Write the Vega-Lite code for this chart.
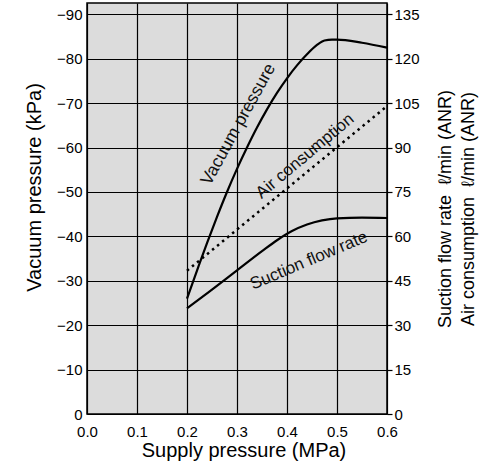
{
  "$schema": "https://vega.github.io/schema/vega-lite/v6.json",
  "width": 300,
  "height": 411,
  "autosize": {"type": "none"},
  "padding": {"left": 87, "top": 3, "right": 92, "bottom": 59},
  "background": "white",
  "config": {
    "font": "Liberation Sans",
    "view": {"fill": "#dcdcdc", "stroke": "black", "strokeWidth": 1.5},
    "axis": {
      "labelFont": "Liberation Sans",
      "titleFont": "Liberation Sans",
      "labelColor": "black",
      "titleColor": "black",
      "titleFontWeight": "normal",
      "labelFontSize": 15,
      "domain": false,
      "labelOverlap": false,
      "labelFlush": false,
      "labelBound": false,
      "gridColor": "black",
      "gridOpacity": 1,
      "gridWidth": 1.2
    }
  },
  "datasets": {
    "vacuum": [
      {"x": 0.2, "v": -26},
      {"x": 0.22, "v": -32.3},
      {"x": 0.24, "v": -38.5},
      {"x": 0.26, "v": -44.4},
      {"x": 0.28, "v": -50.0},
      {"x": 0.3, "v": -55.2},
      {"x": 0.32, "v": -60.0},
      {"x": 0.34, "v": -64.5},
      {"x": 0.36, "v": -68.6},
      {"x": 0.38, "v": -72.3},
      {"x": 0.4, "v": -75.6},
      {"x": 0.42, "v": -78.5},
      {"x": 0.44, "v": -81.0},
      {"x": 0.46, "v": -83.1},
      {"x": 0.475, "v": -84.1},
      {"x": 0.49, "v": -84.3},
      {"x": 0.5, "v": -84.3},
      {"x": 0.55, "v": -83.6},
      {"x": 0.6, "v": -82.5}
    ],
    "air": [
      {"x": 0.2, "q": 48.4},
      {"x": 0.6, "q": 104}
    ],
    "flow": [
      {"x": 0.2, "q": 35.7},
      {"x": 0.25, "q": 42.0},
      {"x": 0.3, "q": 48.5},
      {"x": 0.35, "q": 55.0},
      {"x": 0.38, "q": 58.7},
      {"x": 0.41, "q": 61.8},
      {"x": 0.44, "q": 64.0},
      {"x": 0.47, "q": 65.4},
      {"x": 0.5, "q": 66.1},
      {"x": 0.55, "q": 66.3},
      {"x": 0.6, "q": 66.2}
    ]
  },
  "layer": [
    {
      "layer": [
        {
          "data": {"name": "vacuum"},
          "mark": {"type": "line", "color": "black", "strokeWidth": 2.2, "interpolate": "monotone"},
          "encoding": {
            "x": {
              "field": "x", "type": "quantitative",
              "scale": {"domain": [0, 0.6], "nice": false, "zero": false},
              "axis": {
                "values": [0, 0.1, 0.2, 0.3, 0.4, 0.5, 0.6],
                "format": ".1f",
                "ticks": false,
                "tickSize": 0,
                "labelPadding": 22,
                "labelBaseline": "alphabetic",
                "grid": true,
                "title": "Supply pressure (MPa)",
                "titleFontSize": 20,
                "titleX": 156.5,
                "titleY": 42,
                "titleBaseline": "alphabetic",
                "titleAlign": "center"
              }
            },
            "y": {
              "field": "v", "type": "quantitative",
              "scale": {"domain": [0, -92.55], "nice": false, "zero": false},
              "axis": {
                "values": [0, -10, -20, -30, -40, -50, -60, -70, -80, -90],
                "ticks": false,
                "tickSize": 0,
                "labelPadding": 5,
                "grid": true,
                "title": "Vacuum pressure (kPa)",
                "titleFontSize": 20,
                "titleAngle": -90,
                "titleX": -47,
                "titleY": 184,
                "titleBaseline": "alphabetic",
                "titleAlign": "center"
              }
            }
          }
        },
        {
          "data": {"values": [{"x": 0.303, "v": -65.2, "label": "Vacuum pressure"}]},
          "mark": {"type": "text", "angle": -61, "fontSize": 17.5, "color": "#111", "align": "center", "baseline": "middle", "font": "Liberation Sans"},
          "encoding": {
            "x": {"field": "x", "type": "quantitative", "scale": {"domain": [0, 0.6], "nice": false, "zero": false}},
            "y": {"field": "v", "type": "quantitative", "scale": {"domain": [0, -92.55], "nice": false, "zero": false}},
            "text": {"field": "label"}
          }
        }
      ]
    },
    {
      "layer": [
        {
          "data": {"name": "air"},
          "mark": {"type": "line", "color": "black", "strokeWidth": 2.5, "strokeDash": [2.5, 4]},
          "encoding": {
            "x": {"field": "x", "type": "quantitative", "scale": {"domain": [0, 0.6], "nice": false, "zero": false}},
            "y": {
              "field": "q", "type": "quantitative",
              "scale": {"domain": [0, 138.83], "nice": false, "zero": false},
              "axis": {
                "orient": "right",
                "values": [0, 15, 30, 45, 60, 75, 90, 105, 120, 135],
                "ticks": true,
                "tickSize": 5,
                "tickColor": "black",
                "tickWidth": 1.2,
                "labelPadding": 2,
                "grid": false,
                "title": ["Suction flow rate\u00a0\u00a0ℓ/min (ANR)", "Air consumption\u00a0\u00a0ℓ/min (ANR)"],
                "titleFontSize": 18,
                "titleAngle": -90,
                "titleX": 49,
                "titleBaseline": "top",
                "titleAlign": "center",
                "titleLineHeight": 23
              }
            }
          }
        },
        {
          "data": {"name": "flow"},
          "mark": {"type": "line", "color": "black", "strokeWidth": 2.2, "interpolate": "monotone"},
          "encoding": {
            "x": {"field": "x", "type": "quantitative", "scale": {"domain": [0, 0.6], "nice": false, "zero": false}},
            "y": {"field": "q", "type": "quantitative", "scale": {"domain": [0, 138.83], "nice": false, "zero": false}}
          }
        },
        {
          "data": {"values": [{"x": 0.436, "q": 87.1, "label": "Air consumption"}]},
          "mark": {"type": "text", "angle": -40, "fontSize": 17, "color": "#111", "align": "center", "baseline": "middle", "font": "Liberation Sans"},
          "encoding": {
            "x": {"field": "x", "type": "quantitative", "scale": {"domain": [0, 0.6], "nice": false, "zero": false}},
            "y": {"field": "q", "type": "quantitative", "scale": {"domain": [0, 138.83], "nice": false, "zero": false}},
            "text": {"field": "label"}
          }
        },
        {
          "data": {"values": [{"x": 0.444, "q": 51.8, "label": "Suction flow rate"}]},
          "mark": {"type": "text", "angle": -23, "fontSize": 17, "color": "#111", "align": "center", "baseline": "middle", "font": "Liberation Sans"},
          "encoding": {
            "x": {"field": "x", "type": "quantitative", "scale": {"domain": [0, 0.6], "nice": false, "zero": false}},
            "y": {"field": "q", "type": "quantitative", "scale": {"domain": [0, 138.83], "nice": false, "zero": false}},
            "text": {"field": "label"}
          }
        }
      ]
    }
  ],
  "resolve": {"scale": {"y": "independent"}}
}
